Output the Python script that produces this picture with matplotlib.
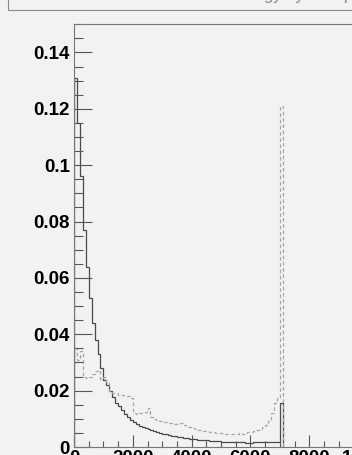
import numpy as np
import matplotlib.pyplot as plt
from matplotlib.patches import Rectangle
from matplotlib.ticker import MultipleLocator

plt.rcParams['font.family'] = ['Liberation Sans', 'DejaVu Sans']

# bin edges (width 100) and the two normalised histograms
edges = np.arange(0, 7101, 100)

solid = [0.131, 0.115, 0.096, 0.077, 0.064, 0.053, 0.044, 0.038, 0.033, 0.028,
         0.0237, 0.022, 0.020, 0.0177, 0.0157, 0.0145, 0.013, 0.0118, 0.0105, 0.0095,
         0.0088, 0.0082, 0.0075, 0.0071, 0.0067, 0.0063, 0.006, 0.0056, 0.0053, 0.005,
         0.0047, 0.0045, 0.0042, 0.004, 0.0038, 0.0036, 0.0034, 0.0032, 0.0031, 0.003,
         0.0028, 0.0027, 0.0026, 0.0025, 0.0025, 0.0024, 0.0022, 0.0021, 0.002, 0.002,
         0.0019, 0.0019, 0.0018, 0.0018, 0.0017, 0.0017, 0.0016, 0.0016, 0.0015, 0.0015,
         0.0015, 0.0016, 0.0016, 0.0016, 0.0016, 0.0016, 0.0016, 0.0017, 0.0017, 0.0018,
         0.0156]

dashed = [0.035, 0.031, 0.034, 0.025, 0.0245, 0.025, 0.026, 0.027, 0.0275, 0.024,
          0.025, 0.023, 0.020, 0.019, 0.019, 0.0185, 0.0185, 0.018, 0.018, 0.0175,
          0.012, 0.0118, 0.012, 0.0122, 0.0125, 0.0138, 0.0105, 0.0098, 0.0095, 0.0092,
          0.009, 0.0088, 0.0086, 0.0085, 0.0083, 0.0082, 0.0085, 0.0078, 0.0072, 0.007,
          0.0068, 0.0065, 0.0062, 0.006, 0.0058, 0.0057, 0.0055, 0.0053, 0.005, 0.005,
          0.0048, 0.0047, 0.0046, 0.0045, 0.0046, 0.0047, 0.0048, 0.0047, 0.005, 0.0052,
          0.0055, 0.0057, 0.006, 0.0065, 0.0072, 0.0078, 0.0094, 0.012, 0.0156, 0.0173,
          0.121]

bg = '#f2f2f2'
W, H = 352, 455

fig = plt.figure(figsize=(W / 100, H / 100), dpi=100, facecolor=bg)

# title box at top (mostly cut off)
fig.patches.append(Rectangle((10 / W, 1 - 11 / H), 1.0, 0.1, transform=fig.transFigure,
                             facecolor='#777777', edgecolor='none', zorder=0))
fig.patches.append(Rectangle((8 / W, 1 - 9.5 / H), 1.0, 0.1, transform=fig.transFigure,
                             facecolor=bg, edgecolor='#888888', linewidth=0.8, zorder=1))
fig.text(0.6, 1 - 0.3 / H, 'Normalized distribution of energy by multiplicity',
         ha='center', va='baseline', fontsize=12, color='#888888', zorder=2)

# plot frame: 0 at x=74px, 29.4 px per 1000
left = 74 / W
bottom = (H - 447) / H
top = (H - 24.3) / H
xmax = 11000
width = xmax / 1000 * 29.4 / W
ax = fig.add_axes([left, bottom, width, top - bottom])
ax.set_facecolor(bg)

ax.stairs(solid, edges, color='#4a4a4a', linewidth=0.9)
ax.stairs(dashed, edges, color='#a8a8a8', linewidth=0.9, linestyle=(0, (3, 2)))

ax.set_xlim(0, xmax)
ax.set_ylim(0, 0.15)

ax.xaxis.set_major_locator(MultipleLocator(2000))
ax.xaxis.set_minor_locator(MultipleLocator(500))
ax.yaxis.set_major_locator(MultipleLocator(0.02))
ax.yaxis.set_minor_locator(MultipleLocator(0.005))

def fmt(v, pos):
    return ('%g' % round(v, 4))

ax.yaxis.set_major_formatter(plt.FuncFormatter(fmt))
ax.xaxis.set_major_formatter(plt.FuncFormatter(lambda v, p: '%d' % v))

ax.tick_params(axis='y', which='major', direction='in', length=17.7 * 0.72, width=0.8,
               color='#555555', pad=3, labelsize=13.5)
ax.tick_params(axis='y', which='minor', direction='in', length=8.7 * 0.72, width=0.8,
               color='#555555')
ax.tick_params(axis='x', which='major', direction='in', length=11.6 * 0.72, width=0.8,
               color='#555555', pad=2, labelsize=13.5)
ax.tick_params(axis='x', which='minor', direction='in', length=6 * 0.72, width=0.8,
               color='#555555')
for lab in ax.get_xticklabels() + ax.get_yticklabels():
    lab.set_fontweight('bold')

for s in ax.spines.values():
    s.set_color('#777777')
    s.set_linewidth(0.8)

fig.savefig('out.png', dpi=100, facecolor=bg)
